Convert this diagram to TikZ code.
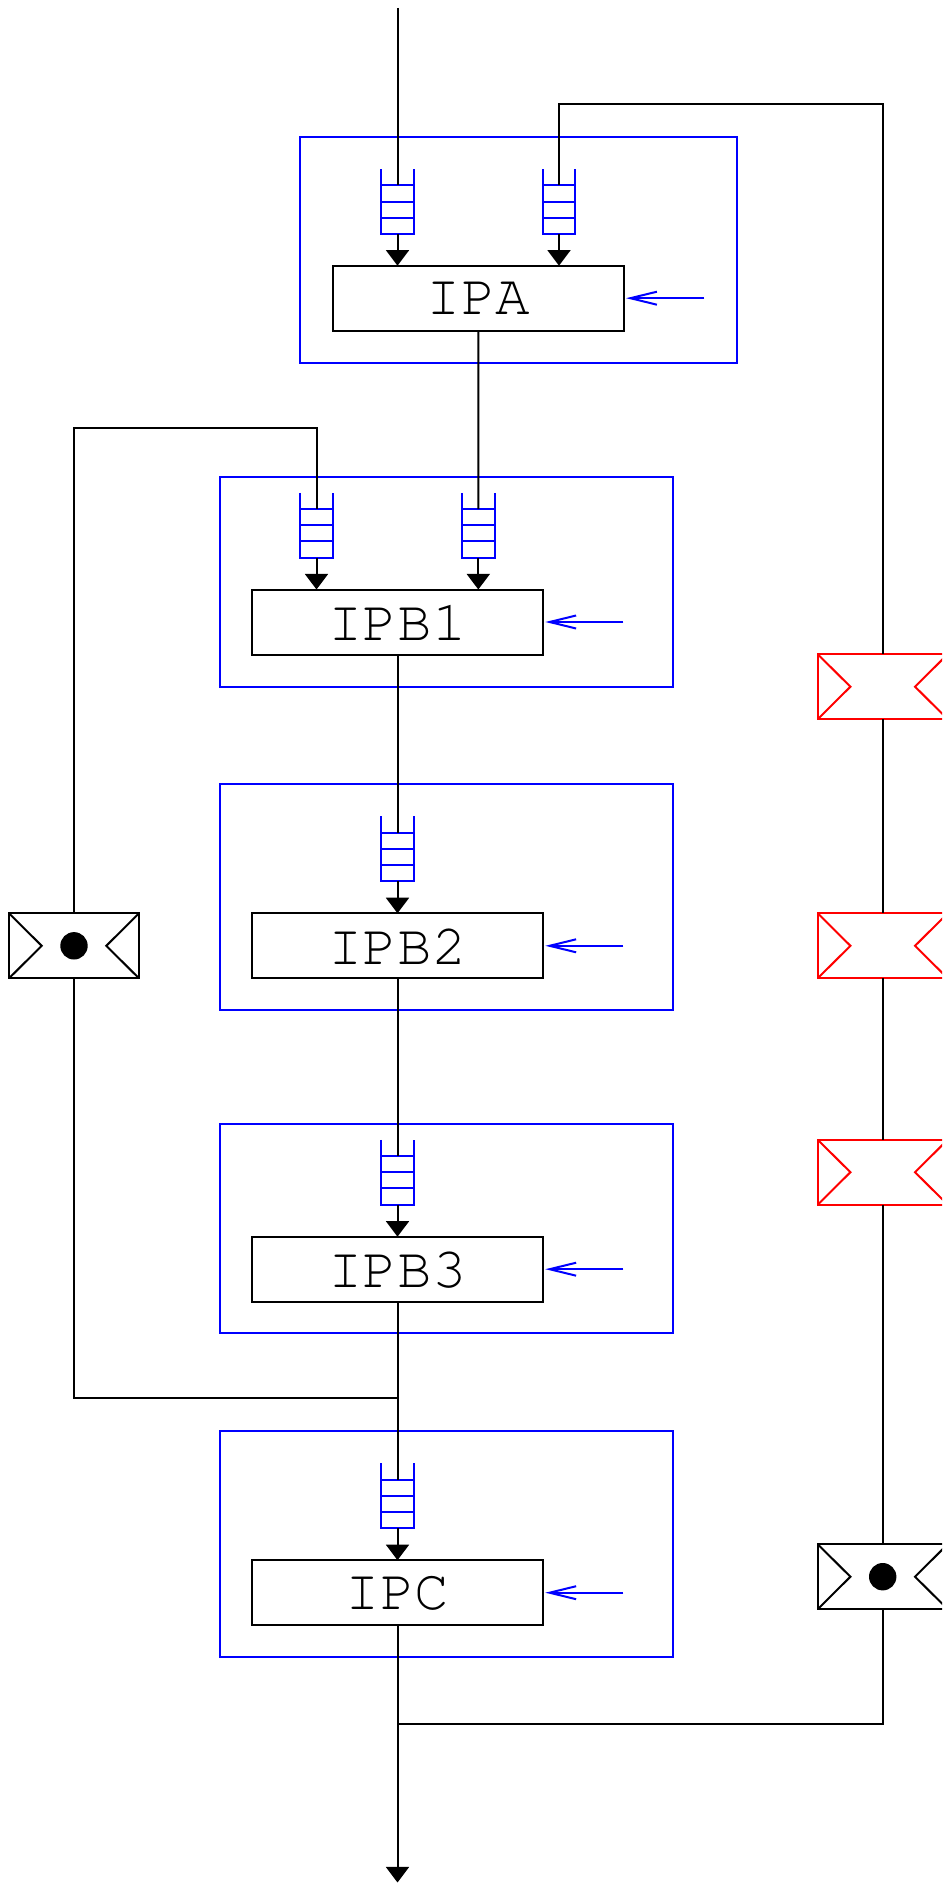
\documentclass[tikz,border=0pt]{standalone}
\usepackage[T1]{fontenc}
\usepackage{courier}
\usetikzlibrary{arrows.meta,calc}
\definecolor{qblue}{RGB}{0,0,255}
\definecolor{gred}{RGB}{255,0,0}
\tikzset{
  conn/.style={draw=black, line width=1pt},
  arr/.style={conn, -{Triangle[length=7.8pt,width=11.5pt]}},
  barb/.style={draw=qblue, line width=1pt, -{Straight Barb[length=13.3pt,width=6.5pt]}, shorten >=1pt},
  qline/.style={draw=qblue, line width=1pt},
  container/.style={draw=qblue, line width=1pt, minimum width=226.6pt, inner sep=0pt, outer sep=0pt},
  proc/.style={draw=black, line width=1pt, minimum width=145.8pt, minimum height=32.5pt, inner sep=0pt, outer sep=0pt,
    font=\fontfamily{pcr}\fontsize{28.8}{30}\selectfont},
  queue/.style={minimum width=16.35pt, minimum height=32.35pt, inner sep=0pt, outer sep=0pt},
  gate/.style={line width=1pt, minimum width=65pt, minimum height=32.5pt, inner sep=0pt, outer sep=0pt},
  dot/.style={fill=black, circle, minimum size=13.7pt, inner sep=0pt}
}
\begin{document}
\begin{tikzpicture}[x=0.5pt,y=-0.5pt]
\useasboundingbox (0,0) rectangle (942,1883);
\clip (0,0) rectangle (942,1883);

% containers
\node[container, minimum width=218.65pt, minimum height=113pt] (cA) at (518.65,249.7) {};
\node[container, minimum height=104.95pt] (cB1) at (446.1,581.75) {};
\node[container, minimum height=113pt] (cB2) at (446.1,897) {};
\node[container, minimum height=104.65pt] (cB3) at (446.1,1228.65) {};
\node[container, minimum height=113.15pt] (cC) at (446.1,1544.15) {};

% process boxes
\node[proc] (ipa) at (478.3,298.2) {IPA};
\node[proc] (ipb1) at (397.5,622) {IPB1};
\node[proc] (ipb2) at (397.5,945.8) {IPB2};
\node[proc] (ipb3) at (397.5,1269.2) {IPB3};
\node[proc] (ipc) at (397.5,1592.7) {IPC};

% queues
\node[queue] (qa1) at (397.5,201.65) {};
\node[queue] (qa2) at (559,201.65) {};
\node[queue] (qb1a) at (316.5,525.2) {};
\node[queue] (qb1b) at (478.3,525.2) {};
\node[queue] (qb2) at (397.5,848.7) {};
\node[queue] (qb3) at (397.5,1172.2) {};
\node[queue] (qc) at (397.5,1495.8) {};
\foreach \q in {qa1,qa2,qb1a,qb1b,qb2,qb3,qc}{
  \draw[qline] (\q.north west) -- (\q.south west) -- (\q.south east) -- (\q.north east);
  \foreach \f in {0.25,0.5,0.75}
    \draw[qline] ($(\q.north west)!\f!(\q.south west)$) -- ($(\q.north east)!\f!(\q.south east)$);
  \coordinate (\q-in) at ($(\q.north)!0.25!(\q.south)$);
}

% gateways
\node[gate, draw=black] (gl) at (74,945.8) {};
\node[gate, draw=gred] (gr1) at (882.7,686.7) {};
\node[gate, draw=gred] (gr2) at (882.7,945.8) {};
\node[gate, draw=gred] (gr3) at (882.7,1172.2) {};
\node[gate, draw=black] (grb) at (882.7,1576.7) {};
\foreach \g/\c in {gl/black,gr1/gred,gr2/gred,gr3/gred,grb/black}{
  \draw[draw=\c, line width=1pt] (\g.north west) -- ([xshift=16.35pt]\g.west) -- (\g.south west);
  \draw[draw=\c, line width=1pt] (\g.north east) -- ([xshift=-16.35pt]\g.east) -- (\g.south east);
}
\node[dot] (dl) at (gl.center) {};
\node[dot] (dr) at (grb.center) {};

% coordinates
\coordinate (in) at (397.5,8);
\coordinate (rtop) at (882.7,104.5);
\coordinate (ltop) at (74,428.3);
\coordinate (ljoin) at (397.5,1398.3);
\coordinate (rjoin) at (397.5,1724);
\coordinate (out) at (397.5,1882.5);

% connectors
\draw[conn] (in) -- (qa1-in);
\draw[conn] (qa2-in) |- (rtop) -- (gr1.north);
\foreach \q/\b in {qa1/ipa,qa2/ipa,qb1a/ipb1,qb1b/ipb1,qb2/ipb2,qb3/ipb3,qc/ipc}
  \draw[arr] (\q.south) -- (\q.south |- \b.north);
\draw[conn] (ipa.south) -- (qb1b-in);
\draw[conn] (gl.north) -- (ltop) -| (qb1a-in);
\draw[conn] (ipb1.south) -- (qb2-in);
\draw[conn] (ipb2.south) -- (qb3-in);
\draw[conn] (ipb3.south) -- (qc-in);
\draw[conn] (gl.south) |- (ljoin);
\draw[conn] (gr1.south) -- (gr2.north);
\draw[conn] (gr2.south) -- (gr3.north);
\draw[conn] (gr3.south) -- (grb.north);
\draw[conn] (grb.south) |- (rjoin);
\draw[arr] (ipc.south) -- (out);

% blue control arrows
\coordinate (ea) at (704.3,298.2);
\coordinate (eb1) at (623.3,622);
\coordinate (eb2) at (623.3,945.8);
\coordinate (eb3) at (623.3,1269.2);
\coordinate (ec) at (623.3,1592.7);
\draw[barb] (ea) -- (ipa.east);
\draw[barb] (eb1) -- (ipb1.east);
\draw[barb] (eb2) -- (ipb2.east);
\draw[barb] (eb3) -- (ipb3.east);
\draw[barb] (ec) -- (ipc.east);
\end{tikzpicture}
\end{document}
